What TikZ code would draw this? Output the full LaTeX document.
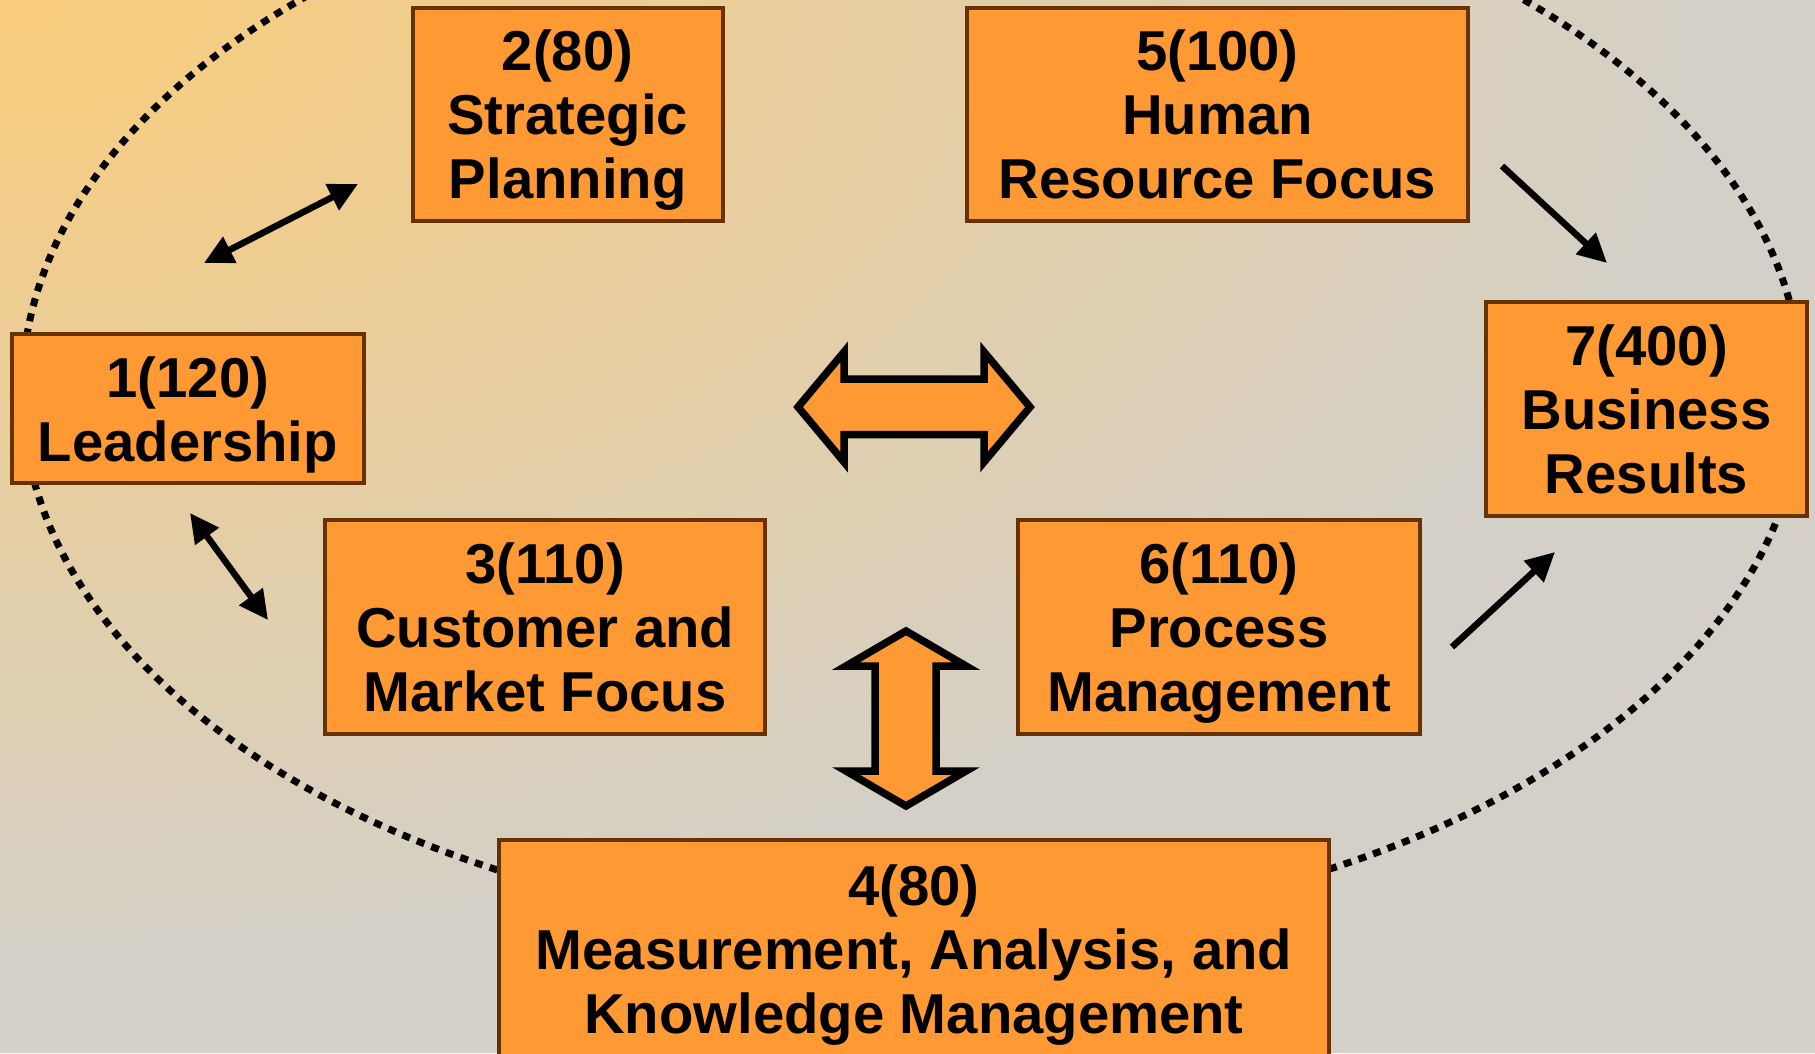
\documentclass[tikz,border=0pt]{standalone}
\usepackage{fontspec}
\setmainfont{Liberation Sans}
\usetikzlibrary{arrows.meta}
\definecolor{boxorange}{RGB}{255,153,51}
\definecolor{boxbrown}{RGB}{102,51,0}
\definecolor{bgorange}{RGB}{250,204,122}
\definecolor{bggrey}{RGB}{212,208,200}

\tikzset{
    crit/.style={draw=boxbrown, fill=boxorange, line width=0.4mm, align=center, inner sep=0pt,
        text depth=0pt, font=\fontsize{16}{18.2}\selectfont\bfseries},
    tip/.tip={Triangle[length=2.9mm, width=2.8mm]},
    link/.style={line width=0.65mm, -tip},
    bothlink/.style={line width=0.65mm, tip-tip},
    fatarrow/.style={draw=black, fill=boxorange, line width=0.75mm, line join=miter},
}

\begin{document}
\begin{tikzpicture}[x=0.1mm, y=-0.1mm]

    \useasboundingbox (0,0) rectangle (1815,1053);

    % background glow from the upper left corner
    \begin{scope}
        \clip (0,0) rectangle (1815,1053);
        \fill[bggrey] (0,0) rectangle (1815,1053);
        \shade[inner color=bgorange, outer color=bggrey] (0,0) ellipse [x radius=172mm, y radius=96mm];
    \end{scope}

    \draw[line width=0.7mm, dash pattern=on 0.8mm off 0.75mm] (912,392) ellipse [x radius=89mm, y radius=54mm];

    \node[crit, minimum width=35.2mm, minimum height=14.9mm] (lead) at (187.8,408.7) {1(120)\\Leadership};
    \node[crit, minimum width=31mm, minimum height=21.3mm] (plan) at (567.6,114.2) {2(80)\\Strategic\\Planning};
    \node[crit, minimum width=44mm, minimum height=21.4mm] (cust) at (545.1,626.7) {3(110)\\Customer and\\Market Focus};
    \node[crit, minimum width=83mm, minimum height=21.8mm] (meas) at (914,949) {4(80)\\Measurement, Analysis, and\\Knowledge Management};
    \node[crit, minimum width=50.1mm, minimum height=21.3mm] (hr) at (1217.4,114.2) {5(100)\\Human\\Resource Focus};
    \node[crit, minimum width=40.2mm, minimum height=21.4mm] (proc) at (1219,626.7) {6(110)\\Process\\Management};
    \node[crit, minimum width=32.1mm, minimum height=21.4mm] (res) at (1646.5,409) {7(400)\\Business\\Results};

    % free ends of the thin arrows
    \coordinate (lead-up) at (204,263);
    \coordinate (plan-down) at (358,184);
    \coordinate (lead-down) at (190,513);
    \coordinate (cust-up) at (268,620);
    \coordinate (hr-out) at (1502,166);
    \coordinate (res-top) at (1607,263);
    \coordinate (proc-out) at (1452,647);
    \coordinate (res-bot) at (1555,552);

    \draw[bothlink] (lead-up) -- (plan-down);
    \draw[bothlink] (lead-down) -- (cust-up);
    \draw[link] (hr-out) -- (res-top);
    \draw[link] (proc-out) -- (res-bot);

    % the two block arrows
    \draw[fatarrow] (798,407) -- (844,352) -- (844,379) -- (984,379) -- (984,352) -- (1030,407)
        -- (984,462) -- (984,434.5) -- (844,434.5) -- (844,462) -- cycle;
    \draw[fatarrow] (906,631) -- (846,666) -- (875,666) -- (875,771) -- (846,771) -- (906,806)
        -- (966,771) -- (936,771) -- (936,666) -- (966,666) -- cycle;

\end{tikzpicture}
\end{document}
